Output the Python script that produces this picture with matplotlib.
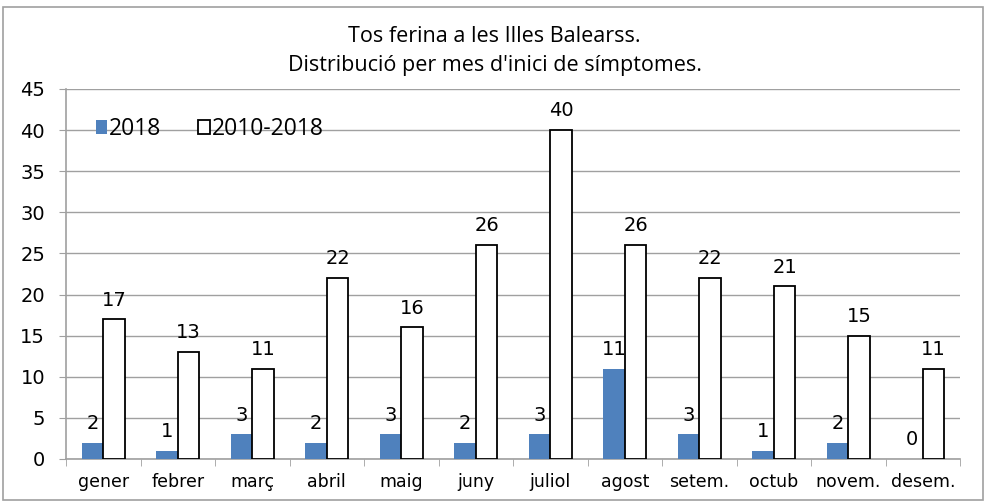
"""Tos ferina a les Illes Balears: cases by month of symptom onset."""

import matplotlib.pyplot as plt
import numpy as np
from matplotlib.patches import Rectangle

MONTHS = ["gener", "febrer", "març", "abril", "maig", "juny",
          "juliol", "agost", "setem.", "octub", "novem.", "desem."]
CASES_2018 = [2, 1, 3, 2, 3, 2, 3, 11, 3, 1, 2, 0]
CASES_2010_2018 = [17, 13, 11, 22, 16, 26, 40, 26, 22, 21, 15, 11]

BLUE = "#4f81bd"
GRID = "#a0a0a0"
TITLE_FONT = ["Open Sans", "DejaVu Sans"]
NUM_FONT = ["DejaVu Sans"]

fig = plt.figure(figsize=(9.89, 5.04), dpi=100)
ax = fig.add_axes([66 / 989, 1 - 459 / 504, 894 / 989, 370 / 504])

x = np.arange(len(MONTHS))
w = 0.29
b1 = ax.bar(x - w / 2, CASES_2018, w, color=BLUE, label="2018", zorder=3)
b2 = ax.bar(x + w / 2, CASES_2010_2018, w, color="white", edgecolor="black",
            linewidth=1.3, label="2010-2018", zorder=3)

for bars in (b1, b2):
    for bar in bars:
        h = bar.get_height()
        ax.annotate(f"{h:g}", (bar.get_x() + bar.get_width() / 2, h),
                    xytext=(0, 7), textcoords="offset points", ha="center",
                    va="bottom", fontsize=14, family=NUM_FONT)

ax.set_xlim(-0.5, len(MONTHS) - 0.5)
ax.set_ylim(0, 45)
ax.set_yticks(range(0, 46, 5))
ax.yaxis.grid(True, color=GRID, linewidth=1)
ax.set_axisbelow(True)
for s in ("top", "right"):
    ax.spines[s].set_visible(False)
for s in ("left", "bottom"):
    ax.spines[s].set_color(GRID)
    ax.spines[s].set_linewidth(1.2)

ax.set_xticks(x)
ax.set_xticklabels(MONTHS, fontsize=12.5, family=NUM_FONT)
ax.tick_params(axis="x", length=0, pad=10)
ax.set_xticks(np.arange(-0.5, len(MONTHS)), minor=True)
ax.tick_params(axis="x", which="minor", length=5, color=GRID, direction="out")
ax.tick_params(axis="y", length=5, color=GRID, labelsize=14, pad=10)
for lab in ax.get_yticklabels():
    lab.set_family(NUM_FONT)

ax.legend(loc="upper left", bbox_to_anchor=(0.01, 0.98), ncol=2, frameon=False,
          handlelength=0.5, handleheight=0.6, handletextpad=0.1,
          columnspacing=1.6, prop={"family": TITLE_FONT, "size": 16.5})

fig.text(0.5, 1 - 37 / 504, "Tos ferina a les Illes Balearss.", ha="center",
         va="center", fontsize=15.5, family=TITLE_FONT)
fig.text(0.5, 1 - 66 / 504, "Distribució per mes d'inici de símptomes.",
         ha="center", va="center", fontsize=15.5, family=TITLE_FONT)

fig.patches.append(Rectangle((3 / 989, 4 / 504), 980 / 989, 493 / 504,
                             transform=fig.transFigure, fill=False,
                             edgecolor=GRID, linewidth=1.2))

fig.savefig("out.png", dpi=100)
